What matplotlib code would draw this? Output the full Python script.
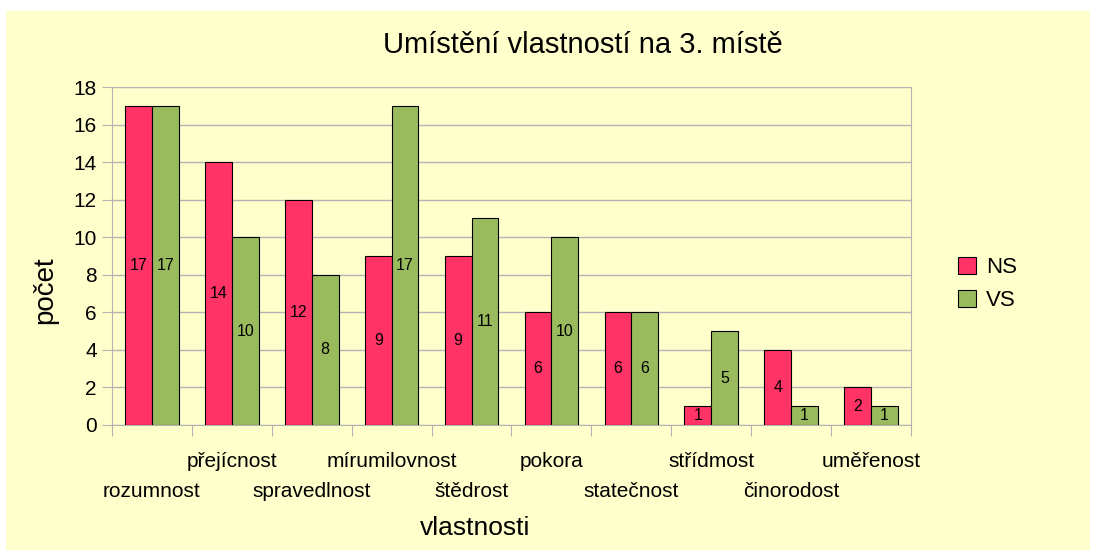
import numpy as np
import matplotlib.pyplot as plt
from matplotlib.patches import Rectangle
from matplotlib.transforms import offset_copy

plt.rcParams['font.family'] = ['Liberation Sans', 'DejaVu Sans']

# --- data ---
categories = ['rozumnost', 'přejícnost', 'spravedlnost', 'mírumilovnost', 'štědrost',
              'pokora', 'statečnost', 'střídmost', 'činorodost', 'uměřenost']
ns_values = [17, 14, 12, 9, 9, 6, 6, 1, 4, 2]
vs_values = [17, 10, 8, 17, 11, 10, 6, 5, 1, 1]
y_ticks = list(range(0, 20, 2))

bg = '#ffffcc'
pink = '#ff3366'
green = '#99bb5e'
grid_col = '#b3b3b3'

W, H = 1096, 557
fig = plt.figure(figsize=(W / 100, H / 100), dpi=100)
fig.patch.set_facecolor('white')
fig.patches.append(Rectangle((6 / W, 7 / H), 1084 / W, 539 / H, transform=fig.transFigure,
                             facecolor=bg, edgecolor='none', zorder=-5))

ax = fig.add_axes([112 / W, (H - 425) / H, 799 / W, 338 / H])
ax.set_facecolor(bg)

x = np.arange(len(categories))
bw = 0.335
b1 = ax.bar(x - bw / 2, ns_values, bw, color=pink, edgecolor='black', linewidth=0.8,
            label='NS', zorder=3)
b2 = ax.bar(x + bw / 2, vs_values, bw, color=green, edgecolor='black', linewidth=0.8,
            label='VS', zorder=3)
ax.bar_label(b1, label_type='center', fontsize=11.5)
ax.bar_label(b2, label_type='center', fontsize=11.5)

ax.set_xlim(-0.5, len(categories) - 0.5)
ax.set_ylim(0, 18)
ax.set_yticks(y_ticks)
ax.tick_params(axis='y', direction='out', length=7, color=grid_col, labelsize=15, pad=4)
ax.yaxis.grid(True, color=grid_col, linewidth=1, zorder=0)

# category boundaries as ticks, labels drawn staggered by hand
ax.set_xticks(np.arange(-0.5, len(categories)))
ax.set_xticklabels([])
ax.tick_params(axis='x', direction='out', length=8, color=grid_col)
xt = ax.get_xaxis_transform()
for i, c in enumerate(categories):
    dy = -26 if i % 2 else -48  # points below axis
    ax.text(i, 0, c, transform=offset_copy(xt, fig=fig, y=dy, units='points'),
            ha='center', va='center', fontsize=15)

for s in ax.spines.values():
    s.set_color(grid_col)

fig.text(583 / W, 1 - 45 / H, 'Umístění vlastností na 3. místě', fontsize=21,
         ha='center', va='center')
fig.text(45 / W, 1 - 290 / H, 'počet', fontsize=20, rotation=90, ha='center', va='center')
fig.text(475 / W, 1 - 528 / H, 'vlastnosti', fontsize=19, ha='center', va='center')

ax.legend(loc='center left', bbox_to_anchor=(1.048, 0.417), frameon=False,
          borderaxespad=0, fontsize=16, handlelength=0.8, handleheight=0.8,
          handletextpad=0.45, labelspacing=0.55)

fig.savefig('out.png', dpi=100, facecolor='white')
